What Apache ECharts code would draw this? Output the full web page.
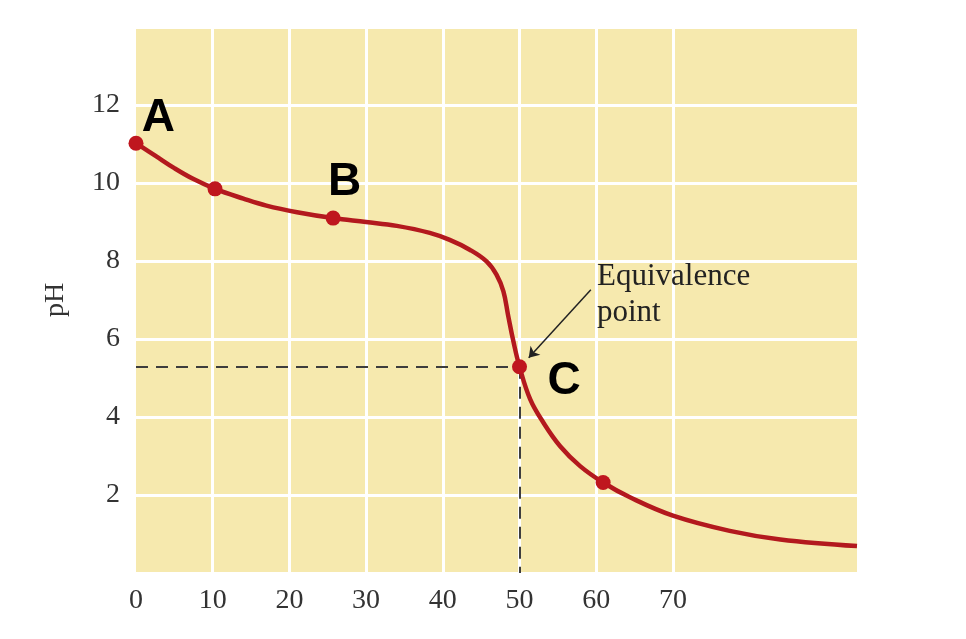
<!DOCTYPE html>
<html>
<head>
<meta charset="utf-8">
<title>Titration curve</title>
<script src="https://cdn.jsdelivr.net/npm/echarts@6/dist/echarts.min.js"></script>
<style>
  html, body { margin: 0; padding: 0; background: #fff; }
  #chart { width: 966px; height: 639px; }
</style>
</head>
<body>
<div id="chart"></div>
<script>
// volume added (x) and pH (y)
const curveVolume = [0, 2.5, 5, 7.5, 10.3, 14, 17, 21, 25.7, 30, 34, 38.3, 40.9, 43.5, 45.7, 47.0, 47.9, 48.5, 49.2, 50, 51.4, 53.1, 55.3, 57.9, 60.9, 64.4, 70, 77.4, 84, 94];
const curvePH = [11.02, 10.7, 10.38, 10.1, 9.85, 9.6, 9.42, 9.25, 9.1, 9.0, 8.9, 8.72, 8.54, 8.29, 7.99, 7.65, 7.22, 6.62, 5.94, 5.29, 4.45, 3.86, 3.25, 2.74, 2.32, 1.94, 1.47, 1.08, 0.86, 0.69];

// the dots drawn on the curve
const dotVolume = [0, 10.3, 25.7, 50, 60.9];
const dotPH = [11.02, 9.85, 9.1, 5.29, 2.32];

// equivalence point
const eqVolume = 50;
const eqPH = 5.29;

// vertical grid lines only go up to 70
const xGridLines = [10, 20, 30, 40, 50, 60, 70];
const xLabelMax = 70;
const yLabelMin = 2, yLabelMax = 12;

// letters A/B/C and the note, in data coords
const letterText = ['A', 'B', 'C'];
const letterVolume = [2.9, 27.2, 55.8];
const letterPH = [11.66, 10.02, 4.91];
const noteText = 'Equivalence\npoint';
const notePos = [60.1, 8.05];
const arrowFrom = [59.3, 7.26];
const arrowTo = [51.2, 5.52];

const serif = '"Liberation Serif", "DejaVu Serif", serif';

const option = {
  animation: false,
  grid: {
    left: 136, right: 109, top: 27, bottom: 66,
    show: true, backgroundColor: '#F6E9AE', borderWidth: 0
  },
  xAxis: {
    type: 'value', min: 0, max: 94, interval: 10,
    axisLine: { show: false }, axisTick: { show: false },
    splitLine: { show: false },
    axisLabel: {
      fontFamily: serif, fontSize: 28, color: '#333', margin: 14,
      formatter: v => (v <= xLabelMax ? String(v) : '')
    }
  },
  yAxis: {
    type: 'value', min: 0, max: 14, interval: 2,
    name: 'pH', nameLocation: 'middle', nameGap: 66, nameRotate: 90,
    nameTextStyle: { fontFamily: serif, fontSize: 28, color: '#333' },
    axisLine: { show: false }, axisTick: { show: false },
    splitLine: { show: true, lineStyle: { color: '#ffffff', width: 3 } },
    axisLabel: {
      fontFamily: serif, fontSize: 28, color: '#333', margin: 16,
      verticalAlign: 'middle', padding: [14, 0, 0, 0],
      formatter: v => (v >= yLabelMin && v <= yLabelMax ? String(v) : '')
    }
  },
  series: [
    {
      // vertical white grid lines
      type: 'line', data: [], z: 1, silent: true,
      markLine: {
        z: 1,
        symbol: 'none', silent: true, animation: false,
        label: { show: false },
        lineStyle: { color: '#ffffff', width: 3, type: 'solid' },
        data: xGridLines.map(v => ({ xAxis: v }))
      }
    },
    {
      // dashed guides to the equivalence point
      type: 'line', data: [], z: 2, silent: true,
      markLine: {
        z: 2,
        symbol: 'none', silent: true, animation: false,
        label: { show: false },
        lineStyle: { color: '#3d3d3d', width: 2, type: [12, 8] },
        data: [
          [{ coord: [0, eqPH] }, { coord: [eqVolume, eqPH] }],
          [{ coord: [eqVolume, eqPH] }, { coord: [eqVolume, 0] }]
        ]
      }
    },
    {
      type: 'line', z: 3,
      data: curveVolume.map((v, i) => [v, curvePH[i]]),
      smooth: 0.4,
      showSymbol: false,
      lineStyle: { color: '#B3191E', width: 4.5 }
    },
    {
      type: 'scatter', z: 4,
      data: dotVolume.map((v, i) => [v, dotPH[i]]),
      symbolSize: 15,
      itemStyle: { color: '#BF161E', opacity: 1 }
    },
    {
      type: 'line', data: [], z: 5, silent: true,
      markLine: {
        z: 5,
        symbol: ['none', 'arrow'], symbolSize: 10, silent: true, animation: false,
        label: { show: false },
        lineStyle: { color: '#222', width: 1.5, type: 'solid' },
        data: [[{ coord: arrowFrom }, { coord: arrowTo }]]
      }
    }
  ]
};

const chart = echarts.init(document.getElementById('chart'));
chart.setOption(option);

// annotations placed from data coords
const toPx = p => chart.convertToPixel({ gridIndex: 0 }, p);
const graphics = letterText.map((t, i) => {
  const p = toPx([letterVolume[i], letterPH[i]]);
  return {
    type: 'text', x: p[0], y: p[1], z: 10,
    style: {
      text: t, fill: '#000',
      font: 'bold 46px "Liberation Sans", Arial, sans-serif',
      align: 'center', verticalAlign: 'middle'
    }
  };
});
const np = toPx(notePos);
graphics.push({
  type: 'text', x: np[0], y: np[1], z: 10,
  style: {
    text: noteText, fill: '#222',
    font: '31px ' + serif, lineHeight: 36,
    align: 'left', verticalAlign: 'top'
  }
});
chart.setOption({ graphic: graphics });
</script>
</body>
</html>
